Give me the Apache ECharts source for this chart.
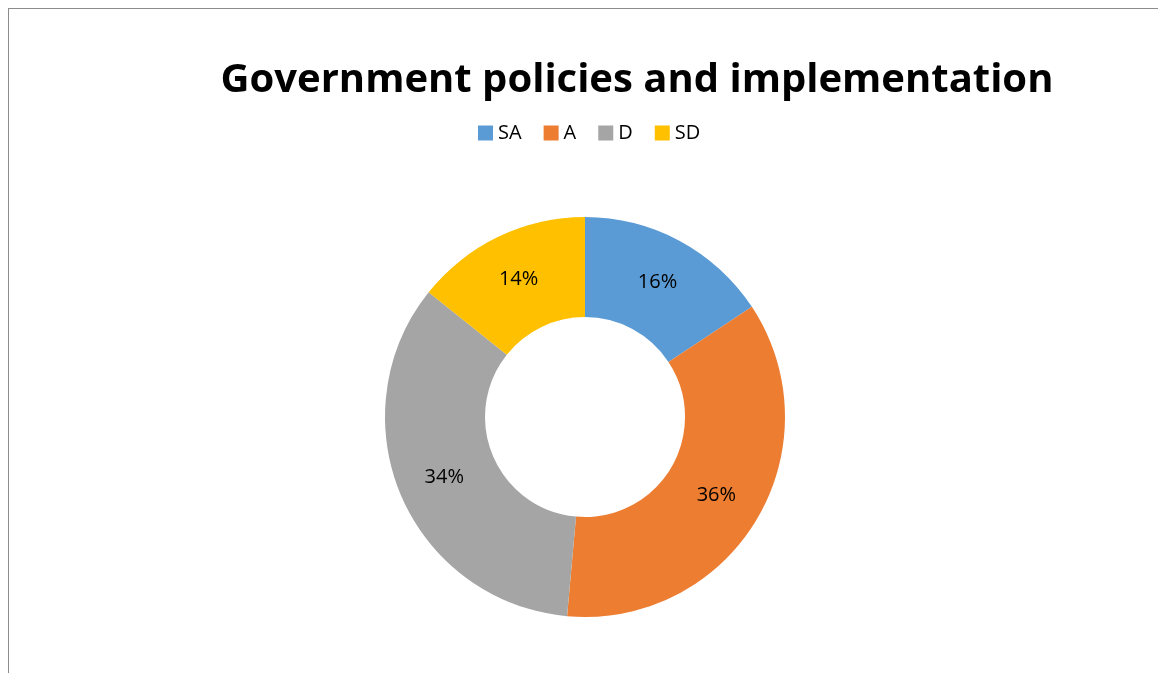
<!DOCTYPE html>
<html><head><meta charset="utf-8">
<script src="https://cdn.jsdelivr.net/npm/echarts@6/dist/echarts.min.js"></script>
<style>
html,body{margin:0;padding:0;background:#fff;}
#frame{position:absolute;left:8px;top:8px;width:1200px;height:700px;border-left:1px solid #8c8c8c;border-top:1px solid #8c8c8c;}
#c{position:absolute;left:0;top:0;width:1158px;height:673px;}
</style></head>
<body>
<div id="frame"></div>
<div id="c"></div>
<script>
const categories = ['SA', 'A', 'D', 'SD'];
const values = [22, 50, 48, 20];
const colors = ['#5B9BD5', '#ED7D31', '#A5A5A5', '#FFC000'];
const titleText = 'Government policies and implementation';

const chart = echarts.init(document.getElementById('c'));
chart.setOption({
  backgroundColor: 'transparent',
  title: {
    text: titleText,
    left: 632, top: 56, textAlign: 'center',
    textStyle: {fontFamily: 'Open Sans', fontWeight: 'bold', fontSize: 40, color: '#000'}
  },
  legend: {
    data: categories,
    top: 118, left: 473,
    icon: 'rect', itemWidth: 15, itemHeight: 15, itemGap: 22,
    textStyle: {fontFamily: 'Open Sans', fontSize: 20, color: '#000'}
  },
  series: [{
    type: 'pie',
    center: [585, 417],
    radius: [100, 200],
    startAngle: 90,
    clockwise: true,
    avoidLabelOverlap: false,
    data: categories.map((c, i) => ({name: c, value: values[i], itemStyle: {color: colors[i]}})),
    label: {
      position: 'inside',
      formatter: p => Math.round(p.percent) + '%',
      fontFamily: 'Open Sans', fontSize: 20, color: '#000'
    },
    labelLine: {show: false},
    emphasis: {disabled: true}
  }]
});
</script>
</body></html>
